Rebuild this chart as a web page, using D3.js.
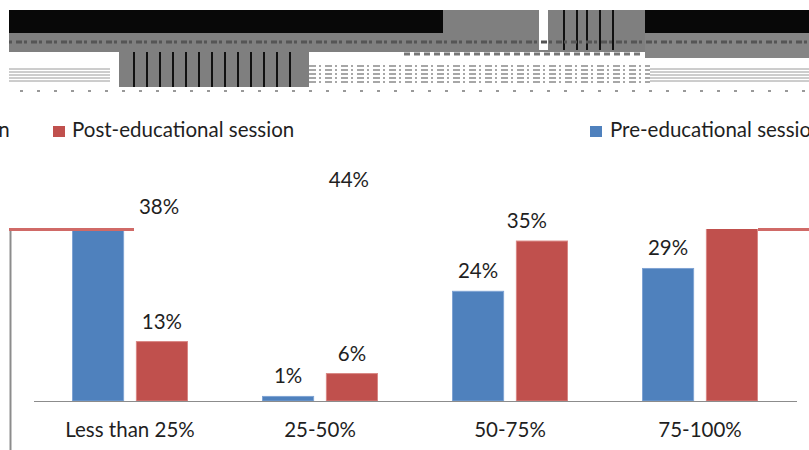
<!DOCTYPE html>
<html>
<head>
<meta charset="utf-8">
<script src="https://cdn.jsdelivr.net/npm/d3@7"></script>
<style>
  body { margin: 0; background: #fff; }
  svg text { font-family: Lato, "Open Sans", sans-serif; fill: #1f1f1f; }
</style>
</head>
<body>
<svg id="chart" width="809" height="450"></svg>
<script>
// donnees
var categories = ["Less than 25%", "25-50%", "50-75%", "75-100%"];
var seriesNames = ["Pre-educational session", "Post-educational session"];
var preValues = [38, 1, 24, 29];
var postValues = [13, 6, 35, 44];

var colors = ["#4F81BD", "#C0504D"];

var width = 809, height = 450;
var fontSize = "20.5px";
var svg = d3.select("#chart");

// ---- bande parasite en haut (image abimee) ----
var noise = svg.append("g");
noise.append("rect").attr("x", 9).attr("y", 10).attr("width", 800).attr("height", 23).attr("fill", "#080808");
noise.append("rect").attr("x", 9).attr("y", 33).attr("width", 800).attr("height", 19).attr("fill", "#7f7f7f");
noise.append("rect").attr("x", 645).attr("y", 33).attr("width", 164).attr("height", 25).attr("fill", "#858585");
noise.append("rect").attr("x", 443).attr("y", 10).attr("width", 202).attr("height", 40).attr("fill", "#7f7f7f");
noise.append("rect").attr("x", 539).attr("y", 10).attr("width", 9).attr("height", 40).attr("fill", "#fff");
[563, 576, 586, 599, 612].forEach(function(x) {
    noise.append("rect").attr("x", x).attr("y", 10).attr("width", 2).attr("height", 40).attr("fill", "#111");
});
noise.append("rect").attr("x", 119).attr("y", 52).attr("width", 190).attr("height", 35).attr("fill", "#7f7f7f");
d3.range(133, 295, 13).forEach(function(x) {
    noise.append("rect").attr("x", x).attr("y", 52).attr("width", 2).attr("height", 35).attr("fill", "#111");
});
// rayures grises
[69, 72, 75, 78, 81].forEach(function(y) {
    noise.append("line").attr("x1", 9).attr("x2", 110).attr("y1", y).attr("y2", y)
        .attr("stroke", "#9a9a9a").attr("stroke-width", 1);
    noise.append("line").attr("x1", 650).attr("x2", 809).attr("y1", y).attr("y2", y)
        .attr("stroke", "#9a9a9a").attr("stroke-width", 1);
});
[66, 70, 74, 78, 82].forEach(function(y) {
    noise.append("line").attr("x1", 309).attr("x2", 650).attr("y1", y).attr("y2", y)
        .attr("stroke", "#8a8a8a").attr("stroke-width", 1.5).attr("stroke-dasharray", "7 3 2 4");
});
noise.append("line").attr("x1", 9).attr("x2", 809).attr("y1", 42).attr("y2", 42)
    .attr("stroke", "#555").attr("stroke-width", 3).attr("stroke-dasharray", "3 4 6 2");
noise.append("line").attr("x1", 404).attr("x2", 640).attr("y1", 54).attr("y2", 54)
    .attr("stroke", "#777").attr("stroke-width", 3).attr("stroke-dasharray", "6 4");
noise.append("line").attr("x1", 20).attr("x2", 809).attr("y1", 91).attr("y2", 91)
    .attr("stroke", "#999").attr("stroke-width", 2).attr("stroke-dasharray", "3 14");

// ---- legende ----
var legend = svg.append("g");
legend.append("rect").attr("x", 53).attr("y", 126).attr("width", 12).attr("height", 11).attr("fill", colors[1]);
legend.append("text").attr("x", 72).attr("y", 137).style("font-size", fontSize).text(seriesNames[1]);
legend.append("rect").attr("x", 590).attr("y", 126).attr("width", 12).attr("height", 11).attr("fill", colors[0]);
legend.append("text").attr("x", 610).attr("y", 137).style("font-size", fontSize).text(seriesNames[0]);
// le meme texte, decale d'une largeur (effet de bouclage de l'image)
legend.append("text").attr("x", 606 - width).attr("y", 137).style("font-size", fontSize).text(seriesNames[0]);

// ---- graphique ----
var x0 = d3.scaleBand().domain(categories).range([35, 795]).padding(0);
var x1 = d3.scaleBand().domain([0, 1])
    .range([x0.bandwidth() / 2 - 57.5, x0.bandwidth() / 2 + 57.5])
    .paddingInner(0.2);
var y = d3.scaleLinear().domain([0, 50]).range([401, 172.5]);

var rows = categories.map(function(c, i) {
    return { cat: c, values: [preValues[i], postValues[i]] };
});

svg.append("defs").append("clipPath").attr("id", "plotclip")
    .append("rect").attr("x", 0).attr("y", 229).attr("width", width).attr("height", height);

var groups = svg.append("g").attr("clip-path", "url(#plotclip)")
    .selectAll("g").data(rows).enter().append("g")
    .attr("transform", function(d) { return "translate(" + x0(d.cat) + ",0)"; });

groups.selectAll("rect")
    .data(function(d) { return d.values; })
    .enter().append("rect")
    .attr("x", function(d, i) { return x1(i); })
    .attr("y", function(d) { return y(d); })
    .attr("width", x1.bandwidth())
    .attr("height", function(d) { return y(0) - y(d); })
    .attr("fill", function(d, i) { return colors[i]; })
    .attr("stroke", function(d, i) { return i == 0 ? "#7fa3d3" : "#d98683"; })
    .attr("stroke-width", 1);

// decalages des etiquettes (lignes deplacees dans l'image)
var labelShift = { "0-0": 61, "3-1": -383, "2-1": -15 };

var labels = svg.append("g");
rows.forEach(function(r, ci) {
    r.values.forEach(function(v, si) {
        var cx = x0(r.cat) + x1(si) + x1.bandwidth() / 2 + (labelShift[ci + "-" + si] || 0);
        labels.append("text")
            .attr("x", cx)
            .attr("y", y(v) - 13)
            .attr("text-anchor", "middle")
            .style("font-size", fontSize)
            .text(v + "%");
    });
});

// trait rouge parasite
svg.append("rect").attr("x", 9).attr("y", 228).attr("width", 125).attr("height", 3).attr("fill", "#d06a67");
svg.append("rect").attr("x", 758).attr("y", 228).attr("width", 51).attr("height", 3).attr("fill", "#d06a67");

// axe vertical gris a gauche
svg.append("line").attr("x1", 10.5).attr("x2", 10.5).attr("y1", 231).attr("y2", 450)
    .attr("stroke", "#8c8c8c").attr("stroke-width", 2);

// axe des categories
var xAxis = d3.axisBottom(x0).tickSize(0).tickPadding(21);
var ax = svg.append("g").attr("transform", "translate(0,401)").call(xAxis);
ax.select(".domain").attr("stroke", "#8c8c8c").attr("d", "M34,0.5H797");
ax.selectAll("text").style("font-size", fontSize).style("font-family", "Lato, 'Open Sans', sans-serif").attr("fill", "#1f1f1f");
</script>
</body>
</html>
